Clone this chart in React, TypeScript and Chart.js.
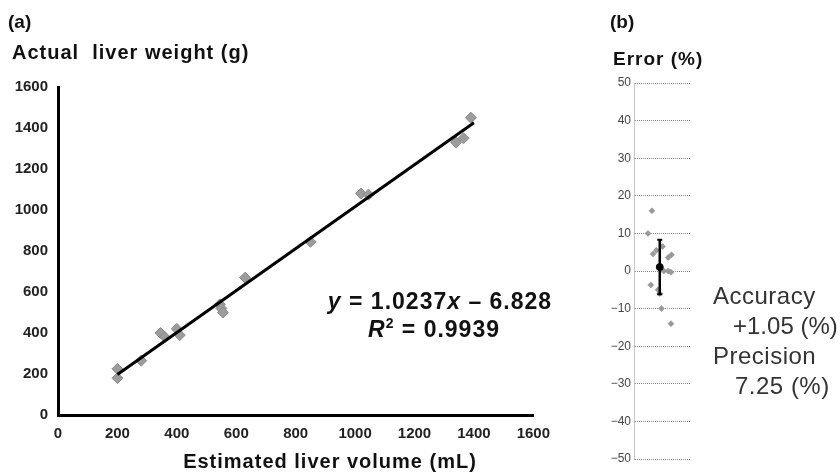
import React, { useEffect, useRef } from "react";
import { Chart, registerables } from "chart.js";

Chart.register(...registerables);

// ---------- Data ----------
// Panel (a): estimated liver volume (mL) vs actual liver weight (g)
const volumeML = [200, 200, 280, 345, 360, 400, 410, 545, 550, 555, 630, 850, 1020, 1045, 1340, 1365, 1390];
const weightG = [225, 180, 265, 400, 380, 420, 390, 540, 520, 500, 670, 845, 1080, 1075, 1330, 1350, 1450];
// regression line endpoints (y = 1.0237x - 6.828)
const fitX = [200, 1400];
const fitY = [198, 1426];
const axisTicksA = [0, 200, 400, 600, 800, 1000, 1200, 1400, 1600];

// Panel (b): error (%) with horizontal jitter position
const jitterX = [3.2, 2.5, 3.4, 4.0, 5.1, 6.7, 6.1, 5.3, 6.1, 6.6, 3.0, 4.3, 4.6, 4.9, 6.6];
const errorPct = [16, 10, 4.5, 5.5, 6.5, 4.3, 3.6, 0, 0, -0.3, -3.7, -5, -6, -10, -14];
const meanX = 4.6;
const meanErr = 1.05;
const sdErr = 7.25;
const errTicks = [50, 40, 30, 20, 10, 0, -10, -20, -30, -40, -50];

const FONT = "'Liberation Sans', Arial, Helvetica, sans-serif";

type Seg = { t: string; italic?: boolean; sup?: boolean };

function drawRich(ctx: CanvasRenderingContext2D, segs: Seg[], cx: number, cy: number, size: number) {
  const fontFor = (s: Seg) =>
    `${s.italic ? "italic " : ""}bold ${s.sup ? Math.round(size * 0.6) : size}px ${FONT}`;
  let total = 0;
  for (const s of segs) {
    ctx.font = fontFor(s);
    total += ctx.measureText(s.t).width;
  }
  let x = cx - total / 2;
  ctx.textBaseline = "middle";
  ctx.textAlign = "left";
  for (const s of segs) {
    ctx.font = fontFor(s);
    ctx.fillText(s.t, x, s.sup ? cy - size * 0.3 : cy);
    x += ctx.measureText(s.t).width;
  }
}

const textA = {
  id: "textA",
  afterDraw(chart: any) {
    const ctx: any = chart.ctx;
    ctx.save();
    ctx.fillStyle = "#111";
    ctx.textBaseline = "middle";
    ctx.textAlign = "left";
    ctx.font = `bold 19px ${FONT}`;
    ctx.fillText("(a)", 8, 23);
    ctx.letterSpacing = "1px";
    ctx.font = `bold 20px ${FONT}`;
    ctx.fillText("Actual  liver weight (g)", 12, 53);
    ctx.textAlign = "center";
    ctx.fillText("Estimated liver volume (mL)", 330, 462);
    drawRich(ctx, [{ t: "y", italic: true }, { t: " = 1.0237" }, { t: "x", italic: true }, { t: " \u2013 6.828" }], 440, 303, 23);
    drawRich(ctx, [{ t: "R", italic: true }, { t: "2", sup: true }, { t: " = 0.9939" }], 434, 331, 23);
    ctx.restore();
  },
};

const textB = {
  id: "textB",
  afterDraw(chart: any) {
    const ctx: any = chart.ctx;
    ctx.save();
    ctx.fillStyle = "#111";
    ctx.textBaseline = "middle";
    ctx.textAlign = "left";
    ctx.font = `bold 19px ${FONT}`;
    ctx.fillText("(b)", 50, 23);
    ctx.letterSpacing = "1px";
    ctx.font = `bold 19px ${FONT}`;
    ctx.fillText("Error (%)", 53, 60);
    ctx.fillStyle = "#333";
    ctx.letterSpacing = "0.5px";
    ctx.font = `24px ${FONT}`;
    ctx.fillText("Accuracy", 153, 297);
    ctx.fillText("Precision", 153, 357);
    ctx.fillText("7.25 (%)", 175, 387);
    ctx.letterSpacing = "0px";
    ctx.fillText("+1.05 (%)", 173, 327);
    ctx.restore();
  },
};

export default function App() {
  const refA = useRef<HTMLCanvasElement>(null);
  const refB = useRef<HTMLCanvasElement>(null);

  useEffect(() => {
    const chartA = new Chart(refA.current!, {
      type: "scatter",
      data: {
        datasets: [
          {
            type: "line",
            data: fitX.map((x, i) => ({ x, y: fitY[i] })),
            borderColor: "#000",
            borderWidth: 3,
            pointRadius: 0,
            order: 0,
          } as any,
          {
            data: volumeML.map((x, i) => ({ x, y: weightG[i] })),
            pointStyle: "rectRot",
            pointRadius: 5.5,
            backgroundColor: "#9c9c9c",
            borderColor: "#8a8a8a",
            borderWidth: 1,
            order: 1,
          },
        ],
      },
      options: {
        responsive: false,
        animation: false,
        layout: { padding: { top: 87, right: 22, left: 0, bottom: 0 } },
        plugins: { legend: { display: false }, tooltip: { enabled: false } },
        scales: {
          x: {
            type: "linear",
            min: 0,
            max: 1600,
            afterBuildTicks: (s: any) => {
              s.ticks = axisTicksA.map((v) => ({ value: v }));
            },
            afterFit: (s: any) => {
              s.height = 57;
            },
            grid: { display: false, drawTicks: false },
            border: { color: "#000", width: 3 },
            ticks: {
              padding: 10,
              color: "#222",
              font: { family: FONT, size: 15, weight: "bold" },
              callback: (v: any) => String(v),
            },
          },
          y: {
            type: "linear",
            min: 0,
            max: 1600,
            afterBuildTicks: (s: any) => {
              s.ticks = axisTicksA.map((v) => ({ value: v }));
            },
            afterFit: (s: any) => {
              s.width = 58;
            },
            grid: { display: false, drawTicks: false },
            border: { color: "#000", width: 3 },
            ticks: {
              padding: 10,
              color: "#222",
              font: { family: FONT, size: 15, weight: "bold" },
              callback: (v: any) => String(v),
            },
          },
        },
      } as any,
      plugins: [textA],
    });

    const capHalf = 0.45;
    const chartB = new Chart(refB.current!, {
      type: "scatter",
      data: {
        datasets: [
          {
            type: "line",
            data: [
              { x: meanX, y: meanErr + sdErr },
              { x: meanX, y: meanErr - sdErr },
            ],
            borderColor: "#000",
            borderWidth: 2.5,
            pointRadius: 0,
            order: 0,
          } as any,
          {
            type: "line",
            data: [
              { x: meanX - capHalf, y: meanErr + sdErr },
              { x: meanX + capHalf, y: meanErr + sdErr },
            ],
            borderColor: "#000",
            borderWidth: 2,
            pointRadius: 0,
            order: 0,
          } as any,
          {
            type: "line",
            data: [
              { x: meanX - capHalf, y: meanErr - sdErr },
              { x: meanX + capHalf, y: meanErr - sdErr },
            ],
            borderColor: "#000",
            borderWidth: 2,
            pointRadius: 0,
            order: 0,
          } as any,
          {
            data: [{ x: meanX, y: meanErr }],
            pointStyle: "circle",
            pointRadius: 3.5,
            backgroundColor: "#000",
            borderColor: "#000",
            order: -1,
          },
          {
            data: jitterX.map((x, i) => ({ x, y: errorPct[i] })),
            pointStyle: "rectRot",
            pointRadius: 3,
            backgroundColor: "#999",
            borderColor: "#888",
            borderWidth: 0.5,
            order: 1,
          },
        ],
      },
      options: {
        responsive: false,
        animation: false,
        layout: { padding: { top: 83, right: 150, left: 0, bottom: 13 } },
        plugins: { legend: { display: false }, tooltip: { enabled: false } },
        scales: {
          x: { type: "linear", min: 0, max: 10, display: false },
          y: {
            type: "linear",
            min: -50,
            max: 50,
            afterBuildTicks: (s: any) => {
              s.ticks = errTicks.map((v) => ({ value: v }));
            },
            afterFit: (s: any) => {
              s.width = 74;
            },
            grid: { color: "#8a8a8a", lineWidth: 1, drawTicks: false },
            border: { color: "#c4c4c4", width: 1, dash: [1, 1] },
            ticks: {
              padding: 3,
              color: "#444",
              font: { family: FONT, size: 12 },
              callback: (v: any) => (v < 0 ? "\u2212" + Math.abs(v) : String(v)),
            },
          },
        },
      } as any,
      plugins: [textB],
    });

    return () => {
      chartA.destroy();
      chartB.destroy();
    };
  }, []);

  return (
    <div style={{ position: "absolute", left: 0, top: 0, width: 840, height: 472, background: "#fff" }}>
      <canvas ref={refA} width={560} height={472} style={{ position: "absolute", left: 0, top: 0 }} />
      <canvas ref={refB} width={280} height={472} style={{ position: "absolute", left: 560, top: 0 }} />
    </div>
  );
}
